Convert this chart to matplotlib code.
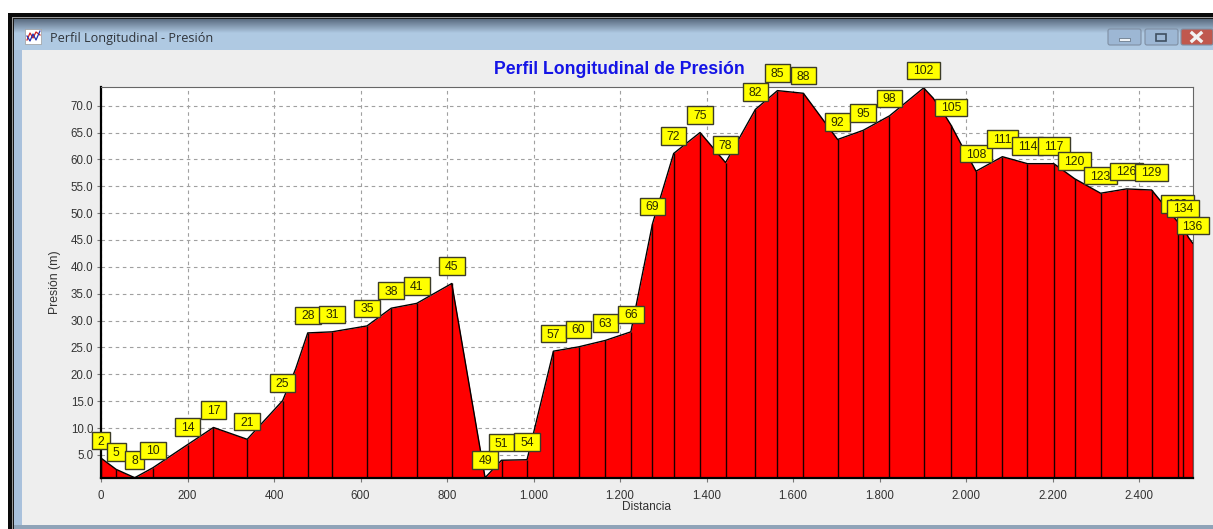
import numpy as np
import matplotlib
matplotlib.use("Agg")
import matplotlib.pyplot as plt
from matplotlib.path import Path
from matplotlib.patches import Rectangle, FancyBboxPatch

plt.rcParams['font.family'] = ['Liberation Sans', 'DejaVu Sans']

# distancia y presion de cada vertice del perfil
distancia = [0, 35, 78, 120, 200, 260, 338, 420, 450, 478, 534, 615, 671, 730, 811, 888, 926, 985,
	1046, 1104, 1166, 1225, 1275, 1324, 1385, 1444, 1513, 1564, 1624, 1703, 1762, 1823, 1902,
	1924, 1951, 1965, 1990, 2013, 2023, 2084, 2142, 2203, 2251, 2311, 2371, 2429, 2489, 2501, 2514, 2524]
presion = [4.4, 2.3, 0.75, 2.6, 6.9, 10.1, 7.9, 15.1, 21.0, 27.7, 27.9, 29.0, 32.3, 33.2, 36.9, 0.75, 4.0, 4.1,
	24.3, 25.1, 26.3, 27.9, 48.0, 61.1, 65.0, 59.4, 69.3, 72.8, 72.3, 63.7, 65.4, 68.1, 73.3,
	71.4, 68.2, 66.4, 62.6, 59.3, 57.8, 60.5, 59.2, 59.2, 56.4, 53.7, 54.5, 54.3, 48.4, 47.6, 45.5, 44.4]
# numero de nodo de cada vertice, vacio si el vertice no lleva etiqueta
nodos = ["2", "5", "8", "10", "14", "17", "21", "25", "", "28", "31", "35", "38", "41", "45", "49", "51", "54",
	"57", "60", "63", "66", "69", "72", "75", "78", "82", "85", "88", "92", "95", "98", "102",
	"", "", "105", "", "", "108", "111", "114", "117", "120", "123", "126", "129", "132", "134", "", "136"]

xticks = [0, 200, 400, 600, 800, 1000, 1200, 1400, 1600, 1800, 2000, 2200, 2400]
xlabels = ["0", "200", "400", "600", "800", "1.000", "1.200", "1.400", "1.600", "1.800", "2.000", "2.200", "2.400"]
yticks = [5, 10, 15, 20, 25, 30, 35, 40, 45, 50, 55, 60, 65, 70]

def caja(x0, y0, w, h, size):
	# caja de etiqueta: mas ancha que alta, subida un poco para centrar los digitos
	px, py = 5.8 * size / 11.8, 2.6 * size / 11.8
	y0 = y0 + 1.0
	x0, y0, x1, y1 = x0 - px, y0 - py, x0 + w + px, y0 + h + py
	return Path([(x0, y0), (x1, y0), (x1, y1), (x0, y1), (x0, y0)], closed=True)

W, H = 1213, 529
fig = plt.figure(figsize=(W / 100, H / 100), dpi=100, facecolor="white")

# marco de la ventana, en pixeles
fondo = fig.add_axes([0, 0, 1, 1])
fondo.set_xlim(0, W)
fondo.set_ylim(H, 0)
fondo.axis("off")
fondo.add_patch(Rectangle((8, 13), W - 8, H - 13, color="#0a0a0a", lw=0))
fondo.add_patch(Rectangle((11.5, 16.5), W, H, color="#9a9a9a", lw=0))
fondo.add_patch(Rectangle((12.5, 17.5), W, H, color="#1a1a1a", lw=0))
fondo.add_patch(Rectangle((14, 19), W, H, color="#a9c1dc", lw=0))
grad = np.linspace(0, 1, 32)[:, None, None]
ini = np.array([0.36, 0.43, 0.51])[None, None, :]
fin = np.array([0.69, 0.79, 0.89])[None, None, :]
fondo.imshow(np.clip(ini + (fin - ini) * np.minimum(grad * 2.2, 1), 0, 1), extent=[14, W, 50, 19], aspect="auto", zorder=1)
fondo.set_xlim(0, W)
fondo.set_ylim(H, 0)
fondo.add_patch(Rectangle((22, 50), W, 475, color="#eeeeee", lw=0, zorder=2))
fondo.add_patch(Rectangle((14, 525), W, 4, color="#8fa3b8", lw=0, zorder=2))
fondo.text(50, 38.5, "Perfil Longitudinal - Presión", fontsize=9.1, color="#30343a", va="center", zorder=3, family=["Open Sans", "DejaVu Sans"])
# icono de la ventana
fondo.add_patch(Rectangle((25, 29), 16, 15, fc="white", ec="#9a9a9a", lw=0.5, zorder=3))
fondo.plot([27, 30, 33, 36, 40], [40, 33, 38, 32, 35], color="#d02020", lw=0.9, zorder=4)
fondo.plot([27, 30, 33, 36, 40], [36, 41, 34, 40, 31], color="#2030b0", lw=0.9, zorder=4)
# botones de la ventana
for x0, ancho, color in [(1108, 33, "#9db7d4"), (1145, 33, "#9db7d4"), (1181, 32, "#c0584e")]:
	fondo.add_patch(FancyBboxPatch((x0, 29), ancho, 16, boxstyle="round,pad=0,rounding_size=2", fc=color, ec="#7f8fa3", lw=0.8, zorder=3))
fondo.add_patch(Rectangle((1119, 38), 11, 3, fc="#eef2f6", ec="#5a6a7c", lw=0.5, zorder=4))
fondo.add_patch(Rectangle((1156, 33.5), 10, 7, fc="none", ec="#3f4f60", lw=1.2, zorder=4))
fondo.plot([1192, 1201], [33, 41], color="#f2f2f2", lw=2.4, zorder=4)
fondo.plot([1192, 1201], [41, 33], color="#f2f2f2", lw=2.4, zorder=4)

# grafico
ax = fig.add_axes([101 / W, 1 - 477.7 / H, (1192.7 - 101) / W, (477.7 - 87) / H])
ax.set_xlim(0, 2524)
ax.set_ylim(0.75, 73.47)
ax.set_axisbelow(True)
ax.grid(True, color="#a0a0a0", ls=(0, (3.2, 3.2)), lw=0.8)
ax.fill_between(distancia, presion, 0, color="#ff0000", lw=0, zorder=2)
ax.plot(distancia, presion, color="black", lw=1.0, zorder=3)

for d, p, n in zip(distancia, presion, nodos):
	if n == "":
		continue
	ax.vlines(d, 0, p, color="#1a0000", lw=1.0, zorder=3)
	ax.annotate(n, (d, p), xytext=(0, 11.9), textcoords="offset points", ha="center", va="center",
		fontsize=8.8, color="#2b2b00", zorder=6, annotation_clip=False,
		bbox=dict(boxstyle=caja, fc="#ffff00", ec="#3c3c28", lw=1.0))

ax.set_xticks(xticks)
ax.set_xticklabels(xlabels)
ax.set_yticks(yticks)
ax.set_yticklabels(["%.1f" % v for v in yticks])
ax.tick_params(axis="both", colors="#333333", labelsize=8.3, length=3, width=0.8, color="#777777", pad=2.5)
ax.tick_params(axis="x", pad=6)
ax.spines["left"].set_linewidth(1.6)
ax.spines["bottom"].set_linewidth(1.6)
ax.spines["left"].set_color("black")
ax.spines["bottom"].set_color("black")
ax.spines["top"].set_color("#666666")
ax.spines["right"].set_color("#666666")
for s in ax.spines.values():
	s.set_zorder(5)

fig.text(619 / W, 1 - 70 / H, "Perfil Longitudinal de Presión", color="#1414e6", fontsize=12.7, fontweight="bold", ha="center", va="center")
fig.text(646.5 / W, 1 - 507.5 / H, "Distancia", color="#333333", fontsize=8.6, ha="center", va="center")
fig.text(55 / W, 1 - 282 / H, "Presión (m)", color="#333333", fontsize=8.8, ha="center", va="center", rotation=90)

fig.savefig("out.png", dpi=100, facecolor=fig.get_facecolor())
